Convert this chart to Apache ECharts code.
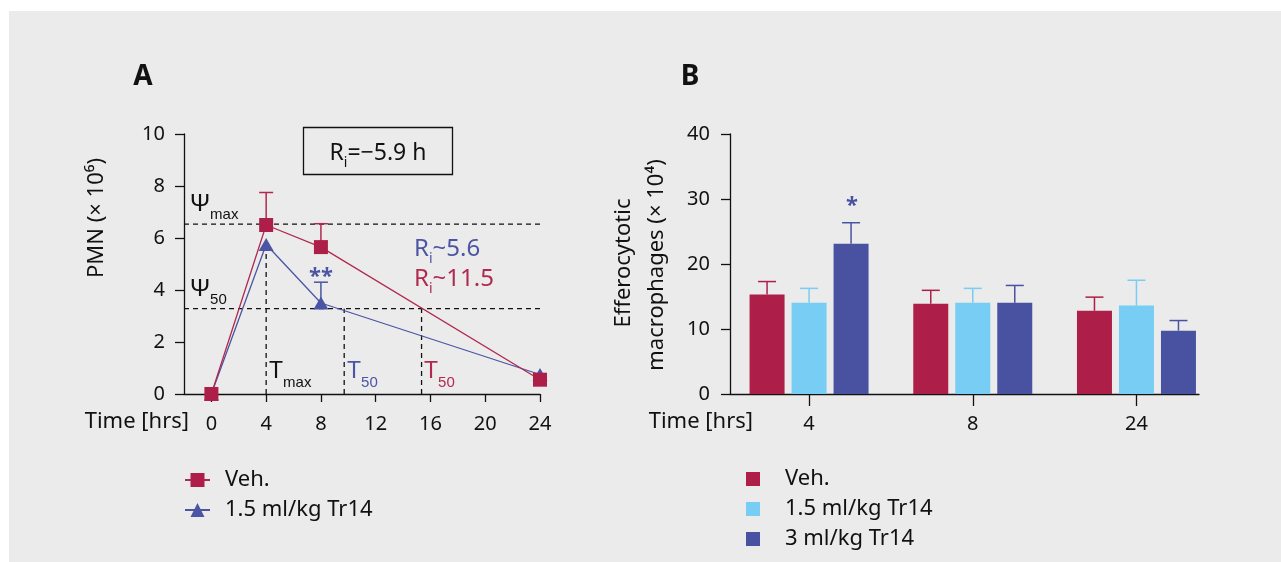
<!DOCTYPE html>
<html>
<head>
<meta charset="utf-8">
<script src="https://cdn.jsdelivr.net/npm/echarts@6/dist/echarts.min.js"></script>
<style>
html,body{margin:0;padding:0;background:#ffffff;}
#bg{position:absolute;left:9px;top:11px;width:1272px;height:551px;background:#ebebeb;}
#chart{position:absolute;left:0;top:0;width:1281px;height:562px;}
</style>
</head>
<body>
<div id="bg"></div>
<div id="chart"></div>
<script>
// ---------- Panel A data (PMN × 10^6 over time) ----------
const hoursA = [0, 4, 8, 24];
const vehPMN = [0, 6.5, 5.65, 0.55];
const vehPMNErr = [0, 1.25, 0.9, 0];
const tr14PMN = [0, 5.75, 3.5, 0.75];
const tr14PMNErr = [0, 0, 0.8, 0];
const psiMax = 6.53;
const psi50 = 3.28;
const tMax = 4;
const t50Tr14 = 9.7;
const t50Veh = 15.35;
const xTicksA = [0, 4, 8, 12, 16, 20, 24];

// ---------- Panel B data (Efferocytotic macrophages × 10^4) ----------
const timeCats = ['4', '8', '24'];
const vehEff = [15.3, 13.9, 12.8];
const vehEffErr = [2.0, 2.05, 2.1];
const tr15Eff = [14.05, 14.05, 13.6];
const tr15EffErr = [2.2, 2.2, 3.9];
const tr3Eff = [23.1, 14.05, 9.75];
const tr3EffErr = [3.25, 2.65, 1.55];

const FONT = "'Noto Sans', sans-serif";
const SERIF_LIKE = "'Liberation Sans', Arial, sans-serif";
const RED = '#ad1f49';
const RED_LINE = '#b2294f';
const LIGHT = '#77cdf3';
const DARK = '#4952a0';
const BLUE_LINE = '#4b55a3';
const INK = '#111111';

const chart = echarts.init(document.getElementById('chart'), null, {renderer: 'canvas'});

function guide(points) {
  return {
    type: 'line', xAxisIndex: 0, yAxisIndex: 0, data: points, symbol: 'none',
    silent: true, z: 1, animation: false,
    lineStyle: {color: INK, width: 1.3, type: [5, 4]}
  };
}

function errSeries(xs, ys, errs, color, xi, yi, offset, cap) {
  const data = [];
  xs.forEach((x, i) => { if (errs[i] > 0) data.push([x, ys[i], ys[i] + errs[i]]); });
  return {
    type: 'custom', xAxisIndex: xi, yAxisIndex: yi, data: data, z: 2, silent: true,
    encode: {x: 0, y: [1, 2]},
    renderItem: function (params, api) {
      const a = api.coord([api.value(0), api.value(1)]);
      const b = api.coord([api.value(0), api.value(2)]);
      const x = a[0] + offset;
      return {
        type: 'group',
        children: [
          {type: 'line', shape: {x1: x, y1: a[1], x2: x, y2: b[1]}, style: {stroke: color, lineWidth: 1.5}},
          {type: 'line', shape: {x1: x - cap, y1: b[1], x2: x + cap, y2: b[1]}, style: {stroke: color, lineWidth: 1.5}}
        ]
      };
    }
  };
}

const pairs = (xs, ys) => xs.map((x, i) => [x, ys[i]]);
const catPairs = (ys) => ys.map((y, i) => [i, y]);

const BAR_W = 35, BAR_GAP = 7;

function txt(x, y, text, color, rich, align, extra) {
  return {
    type: 'text', x: x, y: y, silent: true,
    style: Object.assign({
      text: text, fill: color, rich: rich || {}, align: align || 'left',
      verticalAlign: 'middle', fontFamily: FONT
    }, extra || {})
  };
}

const subRich = (mainSize, subSize, pad, family) => ({
  m: {fontSize: mainSize, fontFamily: family || FONT},
  s: {fontSize: subSize, fontFamily: family || FONT, padding: [pad, 0, 0, 0]}
});

const option = {
  backgroundColor: 'transparent',
  animation: false,
  textStyle: {fontFamily: FONT, color: INK},
  grid: [
    {left: 184, top: 134, width: 356, height: 260, outerBoundsMode: 'none', containLabel: false},
    {left: 730, top: 134, width: 469, height: 260, outerBoundsMode: 'none', containLabel: false}
  ],
  xAxis: [
    {
      type: 'value', gridIndex: 0, min: -2, max: 24,
      axisLine: {show: true, onZero: false, lineStyle: {color: INK, width: 1.3}},
      axisTick: {show: true, customValues: xTicksA, length: 8, lineStyle: {color: INK, width: 1.3}},
      axisLabel: {customValues: xTicksA, fontSize: 20, color: INK, margin: 20, fontFamily: FONT},
      splitLine: {show: false}
    },
    {
      type: 'value', gridIndex: 1, min: -0.483, max: 2.382,
      axisLine: {show: true, onZero: false, lineStyle: {color: INK, width: 1.3}},
      axisTick: {show: true, customValues: [0, 1, 2], length: 12, lineStyle: {color: INK, width: 1.3}},
      axisLabel: {customValues: [0, 1, 2], formatter: v => timeCats[Math.round(v)], fontSize: 20, color: INK, margin: 20, fontFamily: FONT},
      splitLine: {show: false}
    }
  ],
  yAxis: [
    {
      type: 'value', gridIndex: 0, min: 0, max: 10, interval: 2,
      axisLine: {show: true, onZero: false, lineStyle: {color: INK, width: 1.3}},
      axisTick: {show: true, length: 9, lineStyle: {color: INK, width: 1.3}},
      axisLabel: {fontSize: 20, color: INK, margin: 19, fontFamily: FONT},
      splitLine: {show: false}
    },
    {
      type: 'value', gridIndex: 1, min: 0, max: 40, interval: 10,
      axisLine: {show: true, onZero: false, lineStyle: {color: INK, width: 1.3}},
      axisTick: {show: true, length: 9, lineStyle: {color: INK, width: 1.3}},
      axisLabel: {fontSize: 20, color: INK, margin: 20, fontFamily: FONT},
      splitLine: {show: false}
    }
  ],
  legend: [
    {
      left: 179, top: 463, orient: 'vertical', itemWidth: 25, itemHeight: 17.5, itemGap: 6,
      selectedMode: false,
      data: ['Veh.', '1.5 ml/kg Tr14'],
      textStyle: {fontSize: 22, lineHeight: 24, color: INK, fontFamily: FONT, padding: [0, 0, 0, 10]}
    },
    {
      left: 741, top: 462, orient: 'vertical', itemWidth: 14, itemHeight: 14, itemGap: 6,
      icon: 'rect', selectedMode: false,
      data: ['b:Veh.', 'b:1.5 ml/kg Tr14', 'b:3 ml/kg Tr14'],
      formatter: n => n.slice(2),
      textStyle: {fontSize: 22, lineHeight: 24, color: INK, fontFamily: FONT, padding: [0, 0, 0, 20]}
    }
  ],
  series: [
    // guide lines (panel A)
    guide([[-2, psiMax], [24, psiMax]]),
    guide([[-2, psi50], [24, psi50]]),
    guide([[tMax, 0], [tMax, tr14PMN[1]]]),
    guide([[t50Tr14, 0], [t50Tr14, psi50]]),
    guide([[t50Veh, 0], [t50Veh, psi50]]),
    errSeries(hoursA, tr14PMN, tr14PMNErr, BLUE_LINE, 0, 0, 0, 7),
    errSeries(hoursA, vehPMN, vehPMNErr, RED_LINE, 0, 0, 0, 7),
    {
      name: '1.5 ml/kg Tr14', type: 'line', xAxisIndex: 0, yAxisIndex: 0, z: 3,
      data: pairs(hoursA, tr14PMN), symbol: 'triangle', symbolSize: [15, 13],
      lineStyle: {color: BLUE_LINE, width: 1.3}, itemStyle: {color: BLUE_LINE}
    },
    {
      name: 'Veh.', type: 'line', xAxisIndex: 0, yAxisIndex: 0, z: 4,
      data: pairs(hoursA, vehPMN), symbol: 'rect', symbolSize: 14,
      lineStyle: {color: RED_LINE, width: 1.3}, itemStyle: {color: RED}
    },
    // panel B bars
    {
      name: 'b:Veh.', type: 'bar', xAxisIndex: 1, yAxisIndex: 1, data: catPairs(vehEff),
      barWidth: BAR_W, barGap: (BAR_GAP / BAR_W * 100) + '%', itemStyle: {color: RED}
    },
    {
      name: 'b:1.5 ml/kg Tr14', type: 'bar', xAxisIndex: 1, yAxisIndex: 1, data: catPairs(tr15Eff),
      barWidth: BAR_W, barGap: (BAR_GAP / BAR_W * 100) + '%', itemStyle: {color: LIGHT}
    },
    {
      name: 'b:3 ml/kg Tr14', type: 'bar', xAxisIndex: 1, yAxisIndex: 1, data: catPairs(tr3Eff),
      barWidth: BAR_W, barGap: (BAR_GAP / BAR_W * 100) + '%', itemStyle: {color: DARK}
    },
    errSeries([0, 1, 2], vehEff, vehEffErr, RED, 1, 1, -(BAR_W + BAR_GAP), 9),
    errSeries([0, 1, 2], tr15Eff, tr15EffErr, LIGHT, 1, 1, 0, 9),
    errSeries([0, 1, 2], tr3Eff, tr3EffErr, DARK, 1, 1, (BAR_W + BAR_GAP), 9)
  ],
  graphic: [
    // panel letters
    txt(143, 77, 'A', INK, null, 'center', {fontSize: 28, fontWeight: 'bold'}),
    txt(690, 77, 'B', INK, null, 'center', {fontSize: 28, fontWeight: 'bold'}),
    // axis titles
    txt(189, 422, 'Time [hrs]', INK, null, 'right', {fontSize: 22}),
    txt(753, 422, 'Time [hrs]', INK, null, 'right', {fontSize: 22}),
    {type: 'text', x: 97, y: 218, rotation: Math.PI / 2, silent: true,
      style: {text: 'PMN (× 10⁶)', fill: INK, fontSize: 22, fontFamily: FONT, align: 'center', verticalAlign: 'middle'}},
    {type: 'text', x: 624, y: 263, rotation: Math.PI / 2, silent: true,
      style: {text: 'Efferocytotic', fill: INK, fontSize: 22, fontFamily: FONT, align: 'center', verticalAlign: 'middle'}},
    {type: 'text', x: 657, y: 265, rotation: Math.PI / 2, silent: true,
      style: {text: 'macrophages (× 10⁴)', fill: INK, fontSize: 22, fontFamily: FONT, align: 'center', verticalAlign: 'middle'}},
    // Ri box
    {type: 'rect', shape: {x: 303.5, y: 127.5, width: 149, height: 47}, silent: true,
      style: {fill: 'transparent', stroke: INK, lineWidth: 1.3}},
    txt(378, 153, '{m|R}{s|i}{m|=−5.9 h}', INK, subRich(23, 14, 21), 'center'),
    // guide annotations
    txt(190, 204, '{m|Ψ}{s|max}', INK, subRich(24, 15, 22, SERIF_LIKE)),
    txt(190, 289, '{m|Ψ}{s|50}', INK, subRich(24, 15, 22, SERIF_LIKE)),
    txt(269, 372, '{m|T}{s|max}', INK, subRich(23, 15, 22, SERIF_LIKE)),
    txt(347, 372, '{m|T}{s|50}', BLUE_LINE, subRich(23, 15, 22, SERIF_LIKE)),
    txt(424, 372, '{m|T}{s|50}', RED_LINE, subRich(23, 15, 22, SERIF_LIKE)),
    txt(414, 249, '{m|R}{s|i}{m|~5.6}', BLUE_LINE, subRich(24, 14, 20)),
    txt(414, 279, '{m|R}{s|i}{m|~11.5}', RED_LINE, subRich(24, 14, 20)),
    // significance marks
    txt(321, 277, '**', BLUE_LINE, null, 'center', {fontSize: 22, fontWeight: 'bold'}),
    txt(852, 206, '*', DARK, null, 'center', {fontSize: 22, fontWeight: 'bold'})
  ]
};

chart.setOption(option);
</script>
</body>
</html>
